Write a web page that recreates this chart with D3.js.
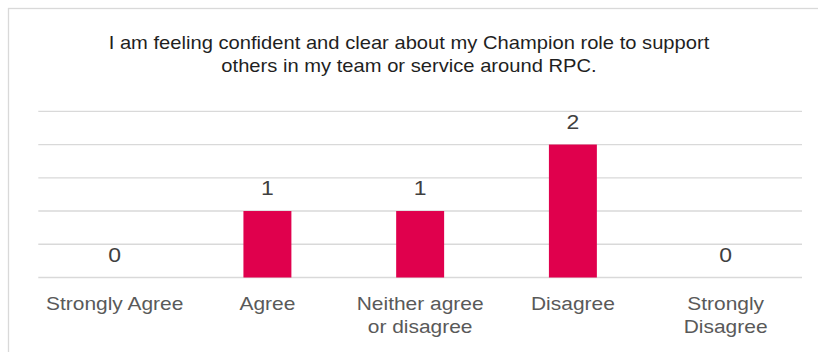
<!DOCTYPE html>
<html>
<head>
<meta charset="utf-8">
<script src="https://cdn.jsdelivr.net/npm/d3@7"></script>
<style>
  html, body { margin: 0; padding: 0; background: #fff; }
  svg { display: block; }
  text { font-family: "Liberation Sans", Arial, sans-serif; }
</style>
</head>
<body>
<svg id="chart" width="818" height="352"></svg>
<script>
// Survey responses
const titleLines = [
  "I am feeling confident and clear about my Champion role to support",
  "others in my team or service around RPC."
];
const categories = ["Strongly Agree", "Agree", "Neither agree or disagree", "Disagree", "Strongly Disagree"];
const counts = [0, 1, 1, 2, 0];
const gridTicks = [0, 0.5, 1, 1.5, 2, 2.5];

const W = 818, H = 352;
const stretch = 1.12; // horizontal text scale
const svg = d3.select("#chart");

svg.append("rect").attr("width", W).attr("height", H).attr("fill", "#fff");

// chart frame
svg.append("rect")
  .attr("x", 8.5).attr("y", 8.5)
  .attr("width", W + 20).attr("height", H + 20)
  .attr("fill", "none").attr("stroke", "#d9d9d9").attr("stroke-width", 1.3);

const x = d3.scaleBand()
  .domain(categories)
  .range([38.3, 802])
  .paddingInner(0.686)
  .paddingOuter(0.343);

const y = d3.scaleLinear()
  .domain([0, 2.5])
  .range([277.5, 111.3]);

function addText(g, tx, ty, str, size, color) {
  return g.append("text")
    .attr("transform", `translate(${tx},${ty}) scale(${stretch},1)`)
    .attr("text-anchor", "middle")
    .attr("font-size", size)
    .attr("fill", color)
    .text(str);
}

// title
const tg = svg.append("g");
titleLines.forEach((t, i) => addText(tg, W / 2, 49 + i * 22.5, t, 18, "#1f1f1f"));

// gridlines
svg.append("g")
  .selectAll("line")
  .data(gridTicks)
  .join("line")
  .attr("x1", 38.3).attr("x2", 802)
  .attr("y1", d => y(d)).attr("y2", d => y(d))
  .attr("stroke", "#d9d9d9").attr("stroke-width", 1.3);

// bars
const data = categories.map((c, i) => ({ c, v: counts[i] }));
svg.append("g")
  .selectAll("rect")
  .data(data.filter(d => d.v > 0))
  .join("rect")
  .attr("x", d => x(d.c))
  .attr("y", d => y(d.v))
  .attr("width", x.bandwidth())
  .attr("height", d => y(0) - y(d.v))
  .attr("fill", "#e0004d");

// value labels
const vg = svg.append("g");
data.forEach(d => addText(vg, x(d.c) + x.bandwidth() / 2, y(d.v) - 16, d.v, 20.5, "#404040"));

// category labels, wrapped to the band step
const cg = svg.append("g");
const maxW = x.step() - 6;
data.forEach(d => {
  const cx = x(d.c) + x.bandwidth() / 2;
  const probe = cg.append("text").attr("font-size", 18.7).style("visibility", "hidden");
  const words = d.c.split(" ");
  const lines = [];
  let cur = "";
  words.forEach(w => {
    const test = cur ? cur + " " + w : w;
    probe.text(test);
    if (cur && probe.node().getComputedTextLength() * stretch > maxW) {
      lines.push(cur);
      cur = w;
    } else {
      cur = test;
    }
  });
  lines.push(cur);
  probe.remove();
  lines.forEach((ln, i) => addText(cg, cx, 310 + i * 23, ln, 18.7, "#595959"));
});
</script>
</body>
</html>
